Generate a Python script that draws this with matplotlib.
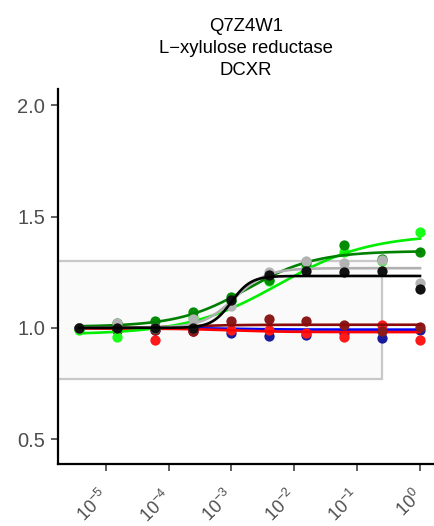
import numpy as np
import matplotlib
matplotlib.use("Agg")
import matplotlib.pyplot as plt
from matplotlib.patches import Rectangle
from matplotlib.transforms import ScaledTranslation

plt.rcParams['font.family'] = ['Liberation Sans', 'DejaVu Sans']
plt.rcParams['mathtext.fontset'] = 'custom'
plt.rcParams['mathtext.rm'] = 'Liberation Sans'
plt.rcParams['mathtext.it'] = 'Liberation Sans'

title_lines = ["Q7Z4W1", "L\u2212xylulose reductase", "DCXR"]

conc = [3.8e-6, 1.53e-5, 6.1e-5, 2.44e-4, 9.77e-4, 3.91e-3, 1.5625e-2, 6.25e-2, 0.25, 1.0]

series_names = ["blue", "red", "darkred", "lime", "green", "gray", "black"]
point_colors = {"blue": "#1a1a9c", "red": "#ff1a1a", "darkred": "#8b1a1a",
                "lime": "#1aff1a", "green": "#058c05", "gray": "#b3b3b3", "black": "#111111"}
line_colors = {"blue": "#0000ff", "red": "#ff0000", "darkred": "#8b0a0a",
               "lime": "#00ee00", "green": "#008000", "gray": "#b0b0b0", "black": "#000000"}

values = {
    "blue":    [1.00, 0.99, 0.99, 0.985, 0.976, 0.964, 0.969, 0.975, 0.954, 0.991],
    "red":     [1.00, 0.99, 0.946, 0.985, 0.990, 0.990, 0.979, 0.961, 1.013, 0.946],
    "darkred": [1.00, 0.99, 0.99, 0.985, 1.030, 1.038, 1.033, 1.013, 0.985, 1.006],
    "lime":    [0.99, 0.958, 1.00, 1.05, 1.12, 1.21, 1.28, 1.34, 1.30, 1.432],
    "green":   [1.00, 1.02, 1.03, 1.069, 1.138, 1.216, 1.29, 1.373, 1.308, 1.34],
    "gray":    [1.00, 1.02, 1.00, 1.039, 1.10, 1.25, 1.30, 1.29, 1.305, 1.20],
    "black":   [1.00, 1.00, 1.00, 1.00, 1.126, 1.237, 1.256, 1.251, 1.256, 1.174],
}

# fitted sigmoid parameters: bottom, top, log10(EC50), hill
fit_bottom = {"blue": 1.000, "red": 0.997, "darkred": 0.999, "lime": 0.97, "green": 1.005, "gray": 1.0, "black": 1.0}
fit_top = {"blue": 0.992, "red": 0.981, "darkred": 1.014, "lime": 1.42, "green": 1.345, "gray": 1.268, "black": 1.233}
fit_logec50 = {"blue": -3.0, "red": -3.0, "darkred": -3.8, "lime": -2.25, "green": -2.75, "gray": -2.95, "black": -3.0}
fit_hill = {"blue": 1.0, "red": 1.0, "darkred": 1.0, "lime": 0.6, "green": 0.8, "gray": 1.7, "black": 2.8}

rect_bounds = [1e-8, 0.25, 1 / 1.3, 1.3]

fig = plt.figure(figsize=(4.34, 5.26), dpi=100)
ax = fig.add_axes([0.133, 0.118, 0.867, 0.713])
ax.set_xscale('log')
ax.set_xlim(10 ** -5.763, 10 ** 0.223)
ax.set_ylim(0.389, 2.073)

ax.add_patch(Rectangle((rect_bounds[0], rect_bounds[2]), rect_bounds[1] - rect_bounds[0],
                       rect_bounds[3] - rect_bounds[2], facecolor="#fafafa",
                       edgecolor="#c8c8c8", lw=1.6, zorder=1))

xs = np.logspace(np.log10(conc[0]), np.log10(conc[-1]), 300)
for i, name in enumerate(series_names):
    b, t, e, h = fit_bottom[name], fit_top[name], fit_logec50[name], fit_hill[name]
    ys = b + (t - b) / (1 + 10 ** ((e - np.log10(xs)) * h))
    ax.scatter(conc, values[name], s=55, color=point_colors[name], zorder=3 + 2 * i, linewidths=0)
    ax.plot(xs, ys, color=line_colors[name], lw=1.9, zorder=4 + 2 * i)

ax.spines['top'].set_visible(False)
ax.spines['right'].set_visible(False)
for s in ['left', 'bottom']:
    ax.spines[s].set_linewidth(1.6)
    ax.spines[s].set_color('black')

ax.set_yticks([0.5, 1.0, 1.5, 2.0])
ax.set_yticklabels(["0.5", "1.0", "1.5", "2.0"])
ax.set_xticks([1e-5, 1e-4, 1e-3, 1e-2, 1e-1, 1e0])
ax.set_xticklabels([r"$10^{-5}$", r"$10^{-4}$", r"$10^{-3}$", r"$10^{-2}$", r"$10^{-1}$", r"$10^{0}$"])
ax.minorticks_off()
ax.tick_params(axis='both', length=5, width=1.1, color='#333333', labelcolor='#4d4d4d')
ax.tick_params(axis='y', pad=4, labelsize=14.5)
ax.tick_params(axis='x', pad=11, labelsize=13)
offset = ScaledTranslation(7 / 100, 0, fig.dpi_scale_trans)
for lab in ax.get_xticklabels():
    lab.set_rotation(45)
    lab.set_ha('right')
    lab.set_va('top')
    lab.set_rotation_mode('default')
    lab.set_transform(lab.get_transform() + offset)

ax.set_title("\n".join(title_lines), fontsize=13.3, color='black', pad=10, linespacing=1.39)

fig.savefig("out.png", dpi=100)
